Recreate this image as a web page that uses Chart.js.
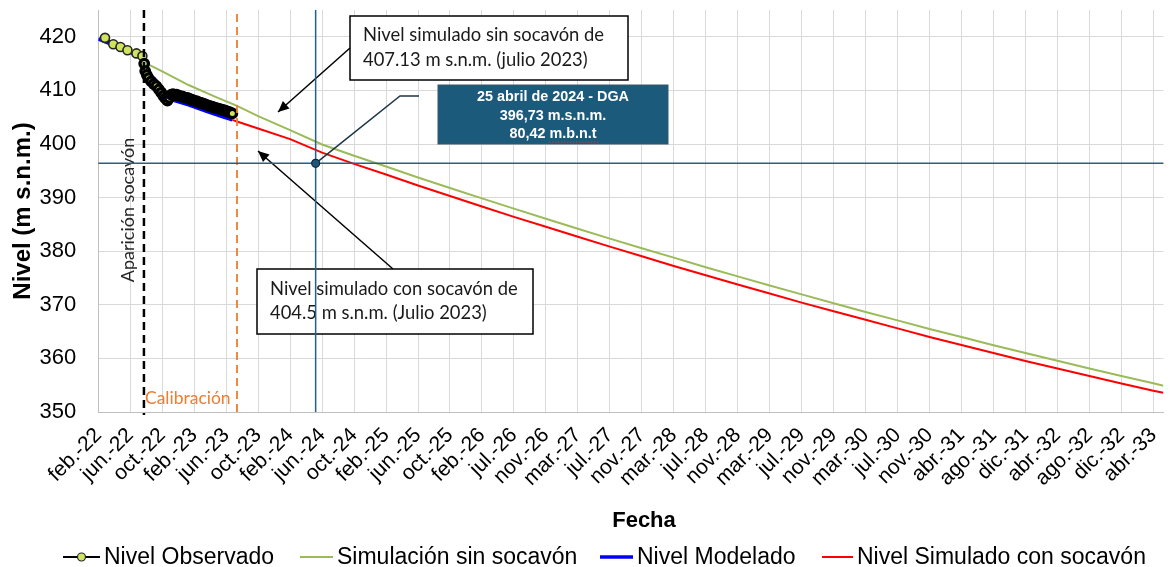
<!DOCTYPE html>
<html>
<head>
<meta charset="utf-8">
<script src="https://cdn.jsdelivr.net/npm/chart.js@4.4.1/dist/chart.umd.min.js"></script>
<style>
html, body { margin: 0; padding: 0; background: #fff; }
#wrap { width: 1171px; height: 567px; }
</style>
</head>
<body>
<div id="wrap"><canvas id="grafico" width="1171" height="567"></canvas></div>
<script>
// eje x: dias desde 1-feb-2022, una marca cada 124 dias
var etiquetasX = ['feb.-22','jun.-22','oct.-22','feb.-23','jun.-23','oct.-23','feb.-24','jun.-24','oct.-24',
    'feb.-25','jun.-25','oct.-25','feb.-26','jul.-26','nov.-26','mar.-27','jul.-27','nov.-27','mar.-28',
    'jul.-28','nov.-28','mar.-29','jul.-29','nov.-29','mar.-30','jul.-30','nov.-30','abr.-31','ago.-31',
    'dic.-31','abr.-32','ago.-32','dic.-32','abr.-33'];

// Nivel Observado
var diasObs = [26,58,86,113,148,171,178,182,188,195,205,215,225,235,244,252,260,268,275,283,
    290,297,304,311,318,325,332,339,346,353,360,367,374,381,388,395,402,409,416,423,430,437,444,
    451,458,465,472,479,486,493,500,507,514,520];
var nivelObs = [419.8,418.6,418.1,417.5,416.9,416.4,415.0,413.6,412.9,412.3,411.7,411.2,410.8,410.2,
    409.6,409.0,408.5,408.1,408.6,409.2,
    409.3,409.1,409.2,409.0,408.9,408.9,408.7,408.6,408.6,408.4,408.3,408.2,408.0,408.0,407.8,407.7,
    407.6,407.5,407.4,407.2,407.1,407.0,406.9,406.8,406.7,406.6,406.5,406.4,406.3,406.2,406.1,406.0,
    405.8,405.7];

// Nivel Modelado
var diasModelado = [0,30,60,90,120,150,172,185,200,215,230,244,257,276,350,420,480,520];
var nivelModelado = [419.6,419.0,418.4,417.8,417.2,416.6,415.9,413.9,412.0,410.5,409.3,408.5,408.0,
    408.4,407.3,406.1,405.1,404.5];

// Simulacion sin socavon
var diasSin = [180,250,350,450,538,620,744,868,992,1116,1240,1364,1488,1612,1736,1860,1984,2108,2232,
    2356,2480,2604,2728,2852,2976,3100,3224,3348,3472,3596,3720,3844,3968,4092,4131];
var nivelSin = [415.2,413.5,411.0,408.9,407.1,405.2,402.6,399.9,397.8,395.8,393.75,391.8,389.85,387.95,
    386.05,384.2,382.35,380.55,378.8,377.0,375.3,373.6,371.95,370.3,368.65,367.1,365.5,364.0,362.45,
    361.0,359.55,358.1,356.7,355.35,354.9];

// Nivel simulado con socavon
var diasCon = [520,538,620,744,868,992,1116,1240,1364,1488,1612,1736,1860,1984,2108,2232,2356,2480,
    2604,2728,2852,2976,3100,3224,3348,3472,3596,3720,3844,3968,4092,4131];
var nivelCon = [404.5,404.2,402.9,400.9,398.4,396.3,394.3,392.25,390.3,388.35,386.4,384.55,382.7,
    380.85,379.05,377.25,375.5,373.8,372.1,370.4,368.8,367.2,365.6,364.0,362.5,361.0,359.5,358.1,
    356.7,355.3,353.95,353.6];

// hitos
var diaSocavon = 177;
var diaCalibracion = 538;
var diaDGA = 843;
var nivelDGA = 396.4;

function puntos(dias, niveles) {
    return dias.map((d, i) => ({ x: d, y: niveles[i] }));
}

function flecha(ctx, x1, y1, x2, y2) {
    ctx.beginPath();
    ctx.moveTo(x1, y1);
    ctx.lineTo(x2, y2);
    ctx.stroke();
    let ang = Math.atan2(y2 - y1, x2 - x1);
    let L = 11, W = 5;
    ctx.beginPath();
    ctx.moveTo(x2, y2);
    ctx.lineTo(x2 - L * Math.cos(ang) + W * Math.sin(ang), y2 - L * Math.sin(ang) - W * Math.cos(ang));
    ctx.lineTo(x2 - L * Math.cos(ang) - W * Math.sin(ang), y2 - L * Math.sin(ang) + W * Math.cos(ang));
    ctx.closePath();
    ctx.fill();
}

function cajaTexto(ctx, x, y, w, h, lineas, tx, ys) {
    ctx.fillStyle = '#fff';
    ctx.fillRect(x, y, w, h);
    ctx.strokeStyle = '#000';
    ctx.lineWidth = 1.5;
    ctx.setLineDash([]);
    ctx.strokeRect(x, y, w, h);
    ctx.fillStyle = '#1a1a1a';
    ctx.font = '18.4px Lato';
    ctx.textAlign = 'left';
    ctx.textBaseline = 'middle';
    lineas.forEach((t, i) => ctx.fillText(t, tx, ys[i]));
}

const anotaciones = {
    id: 'anotaciones',
    afterDatasetsDraw(chart) {
        const { ctx, chartArea: a, scales: { x, y } } = chart;
        ctx.save();

        // aparicion socavon
        let xs = x.getPixelForValue(diaSocavon);
        ctx.strokeStyle = '#000';
        ctx.lineWidth = 2.5;
        ctx.setLineDash([8, 5]);
        ctx.beginPath(); ctx.moveTo(xs, a.top); ctx.lineTo(xs, a.bottom + 3); ctx.stroke();

        // calibracion
        let xc = x.getPixelForValue(diaCalibracion);
        ctx.strokeStyle = '#ed7d31';
        ctx.lineWidth = 1.8;
        ctx.setLineDash([8, 5]);
        ctx.beginPath(); ctx.moveTo(xc, a.top + 4); ctx.lineTo(xc, a.bottom + 3); ctx.stroke();
        ctx.setLineDash([]);

        ctx.save();
        ctx.translate(128, 210);
        ctx.rotate(-Math.PI / 2);
        ctx.fillStyle = '#262626';
        ctx.font = '18px Lato';
        ctx.textAlign = 'center';
        ctx.textBaseline = 'middle';
        ctx.fillText('Aparición socavón', 0, 0);
        ctx.restore();

        ctx.fillStyle = '#ed7d31';
        ctx.font = '17.5px Lato';
        ctx.textAlign = 'left';
        ctx.textBaseline = 'middle';
        ctx.fillText('Calibración', xs + 1, 398);

        // caja sin socavon
        cajaTexto(ctx, 350, 16, 278, 64,
            ['Nivel simulado sin socavón de', '407.13 m s.n.m. (julio 2023)'], 363, [35, 60]);
        ctx.strokeStyle = '#000'; ctx.fillStyle = '#000'; ctx.lineWidth = 1.5;
        flecha(ctx, 350, 48, 278, 112);

        // caja con socavon
        cajaTexto(ctx, 257, 269, 276, 65,
            ['Nivel simulado con socavón de', '404.5 m s.n.m. (Julio 2023)'], 270, [289, 313]);
        ctx.strokeStyle = '#000'; ctx.fillStyle = '#000'; ctx.lineWidth = 1.5;
        flecha(ctx, 393, 269, 258, 151);

        // medicion DGA
        let xd = x.getPixelForValue(diaDGA);
        let yd = y.getPixelForValue(nivelDGA);
        ctx.strokeStyle = '#24618a';
        ctx.lineWidth = 1.5;
        ctx.beginPath(); ctx.moveTo(xd, a.top); ctx.lineTo(xd, a.bottom); ctx.stroke();
        ctx.beginPath(); ctx.moveTo(a.left, yd); ctx.lineTo(a.right, yd); ctx.stroke();

        ctx.strokeStyle = '#1c3546';
        ctx.lineWidth = 1.5;
        ctx.beginPath(); ctx.moveTo(419, 96); ctx.lineTo(400, 96); ctx.lineTo(xd, yd); ctx.stroke();
        ctx.beginPath();
        ctx.arc(xd, yd, 4, 0, Math.PI * 2);
        ctx.fillStyle = '#1f5577'; ctx.fill();
        ctx.strokeStyle = '#0d2a3d'; ctx.lineWidth = 1.2; ctx.stroke();

        ctx.fillStyle = '#1b5a7b';
        ctx.fillRect(438, 85, 230, 59);
        ctx.strokeStyle = '#3c5668';
        ctx.lineWidth = 1;
        ctx.strokeRect(438, 85, 230, 59);
        ctx.fillStyle = '#fff';
        ctx.font = 'bold 14.4px "Liberation Sans", Arial';
        ctx.textAlign = 'center';
        ctx.textBaseline = 'middle';
        ctx.fillText('25 abril de 2024 - DGA', 553, 97);
        ctx.fillText('396,73 m.s.n.m.', 553, 116);
        ctx.fillText('80,42 m.b.n.t', 553, 134);
        ctx.strokeStyle = '#e03030';
        ctx.lineWidth = 1;
        ctx.setLineDash([1.5, 1.5]);
        ctx.beginPath(); ctx.moveTo(549, 142); ctx.lineTo(598, 142); ctx.stroke();
        ctx.setLineDash([]);

        ctx.restore();
    },
    afterDraw(chart) {
        const ctx = chart.ctx;
        const ds = chart.data.datasets;
        ctx.save();

        // titulo eje x
        ctx.fillStyle = '#000';
        ctx.font = 'bold 22px "Liberation Sans", Arial';
        ctx.textAlign = 'center';
        ctx.textBaseline = 'middle';
        ctx.fillText('Fecha', 644, 521);

        // leyenda
        const pos = [[63, 100, 104], [300, 333, 337], [600, 633, 637], [822, 853, 857]];
        const yl = 557;
        ctx.font = '23px "Liberation Sans", Arial';
        ctx.textAlign = 'left';
        ds.forEach((d, i) => {
            let p = pos[i];
            ctx.strokeStyle = d.borderColor;
            ctx.lineWidth = d.borderWidth;
            ctx.beginPath(); ctx.moveTo(p[0], yl); ctx.lineTo(p[1], yl); ctx.stroke();
            if (i === 0) {
                ctx.beginPath();
                ctx.arc((p[0] + p[1]) / 2, yl, 4, 0, Math.PI * 2);
                ctx.fillStyle = d.pointBackgroundColor; ctx.fill();
                ctx.strokeStyle = '#262626'; ctx.lineWidth = 1.2; ctx.stroke();
            }
            ctx.fillStyle = '#000';
            ctx.fillText(d.label, p[2], yl + 1);
        });
        ctx.restore();
    }
};

new Chart(document.getElementById('grafico'), {
    type: 'line',
    data: {
        datasets: [
            {
                label: 'Nivel Observado',
                data: puntos(diasObs, nivelObs),
                borderColor: '#000',
                borderWidth: 2,
                pointRadius: (c) => c.dataIndex < 6 ? 4.5 : 4.2,
                pointBackgroundColor: '#cfe35e',
                pointBorderColor: (c) => c.dataIndex < 6 ? '#262626' : '#000',
                pointBorderWidth: (c) => c.dataIndex < 6 ? 1.6 : 3.4
            },
            {
                label: 'Simulación sin socavón',
                data: puntos(diasSin, nivelSin),
                borderColor: '#9bbb59',
                borderWidth: 2,
                pointRadius: 0
            },
            {
                label: 'Nivel Modelado',
                data: puntos(diasModelado, nivelModelado),
                borderColor: '#0000ff',
                borderWidth: 3.5,
                pointRadius: 0
            },
            {
                label: 'Nivel Simulado con socavón',
                data: puntos(diasCon, nivelCon),
                borderColor: '#ff0000',
                borderWidth: 2,
                pointRadius: 0
            }
        ]
    },
    options: {
        responsive: false,
        animation: false,
        devicePixelRatio: 1,
        layout: { padding: { top: 10, right: 0, bottom: 35, left: 0 } },
        plugins: {
            legend: { display: false },
            tooltip: { enabled: false }
        },
        scales: {
            x: {
                type: 'linear',
                min: 0,
                max: 4131,
                grid: { color: '#d9d9d9', drawTicks: false },
                border: { color: '#bfbfbf' },
                ticks: {
                    stepSize: 124,
                    includeBounds: false,
                    autoSkip: false,
                    maxRotation: 45,
                    minRotation: 45,
                    padding: 11,
                    color: '#000',
                    font: { family: '"Liberation Sans", Arial', size: 21 },
                    callback: (v) => etiquetasX[Math.round(v / 124)]
                },
                afterFit: (s) => { s.height = 120; s.paddingLeft = 0; s.paddingRight = 0; }
            },
            y: {
                min: 350,
                max: 425,
                grid: { color: '#d9d9d9', drawTicks: false },
                border: { color: '#bfbfbf' },
                ticks: {
                    stepSize: 10,
                    includeBounds: false,
                    padding: 22,
                    color: '#000',
                    font: { family: '"Liberation Sans", Arial', size: 22 }
                },
                title: {
                    display: true,
                    text: 'Nivel (m s.n.m.)',
                    color: '#000',
                    padding: { top: 9, bottom: 0 },
                    font: { family: '"Liberation Sans", Arial', size: 24, weight: 'bold' }
                },
                afterFit: (s) => { s.width = 98.3; s.paddingTop = 0; s.paddingBottom = 0; }
            }
        }
    },
    plugins: [anotaciones]
});
</script>
</body>
</html>
